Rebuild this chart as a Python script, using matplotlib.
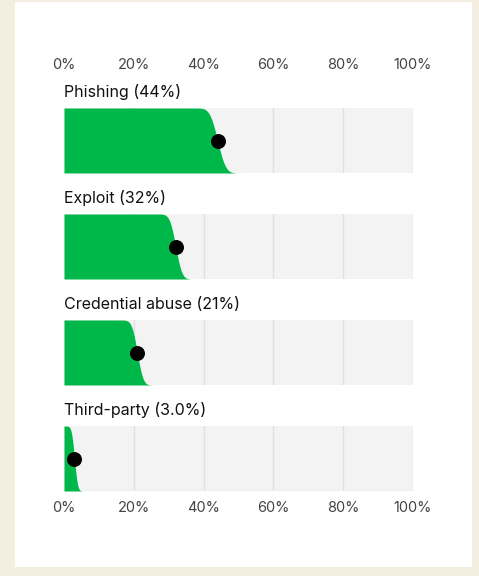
import matplotlib
matplotlib.use("Agg")
import matplotlib.pyplot as plt
import matplotlib.transforms as mtransforms
import numpy as np
from matplotlib.patches import Rectangle
from math import erf, sqrt

plt.rcParams['font.family'] = ['Inter', 'DejaVu Sans']

# ---- data ----
categories = ["Phishing", "Exploit", "Credential abuse", "Third-party"]
value_labels = ["44%", "32%", "21%", "3.0%"]
values = [44, 32, 21, 3.0]          # point estimate (%)
spreads = [1.8, 1.4, 1.3, 0.7]      # uncertainty (sd, percentage points)
tick_values = [0, 20, 40, 60, 80, 100]
tick_labels = ["0%", "20%", "40%", "60%", "80%", "100%"]

# ---- style ----
W, H = 479, 576
DPI = 100
CREAM = "#F4EEE1"
BAND = "#F3F3F3"
GRID = "#E0E0E0"
GREEN = "#00B84A"
TEXT = "#111111"
TICK = "#444444"

fig = plt.figure(figsize=(W / DPI, H / DPI), dpi=DPI)
fig.patch.set_facecolor(CREAM)

def fx(px):
    return px / W

def fy(py):
    return 1 - py / H

# white panel
fig.add_artist(Rectangle((fx(15), fy(567)), fx(472) - fx(15), fy(2) - fy(567),
                         transform=fig.transFigure, facecolor="white",
                         edgecolor="none", zorder=0))

x_left, x_right = 64, 413
band_tops = [108, 214, 320, 426]
band_h = 65

# background axes for tick labels (top & bottom)
bg = fig.add_axes([fx(x_left), fy(band_tops[-1] + band_h),
                   fx(x_right) - fx(x_left),
                   fy(band_tops[0]) - fy(band_tops[-1] + band_h)])
bg.set_xlim(0, 100)
bg.set_ylim(0, 1)
bg.patch.set_visible(False)
for s in bg.spines.values():
    s.set_visible(False)
bg.set_yticks([])
bg.set_xticks(tick_values)
bg.set_xticklabels(tick_labels)
bg.tick_params(axis="x", which="both", length=0, top=True, labeltop=True,
               bottom=True, labelbottom=True, labelsize=10.5, labelcolor=TICK,
               pad=7)
offset_top = mtransforms.ScaledTranslation(0, 19 / 72, fig.dpi_scale_trans)
for t in bg.xaxis.get_major_ticks():
    t.label2.set_transform(t.label2.get_transform() + offset_top)

xs = np.linspace(0, 100, 2001)

for i, (cat, vl, v, sd) in enumerate(zip(categories, value_labels, values, spreads)):
    top = band_tops[i]
    ax = fig.add_axes([fx(x_left), fy(top + band_h), fx(x_right) - fx(x_left),
                       fy(top) - fy(top + band_h)])
    ax.set_xlim(0, 100)
    ax.set_ylim(0, 1)
    ax.set_facecolor(BAND)
    for s in ax.spines.values():
        s.set_visible(False)
    ax.set_xticks([])
    ax.set_yticks([])
    for g in tick_values[1:]:
        ax.axvline(g, color=GRID, lw=1, zorder=1)
    surv = np.array([0.5 * (1 - erf((x - v) / (sd * sqrt(2)))) for x in xs])
    ax.fill_between(xs, 0, surv, color=GREEN, lw=0, zorder=2)
    ax.scatter([v], [0.5], s=95, color="black", zorder=3, clip_on=False)
    ax.text(0, 1.0, f"{cat} ({vl})",
            transform=ax.transAxes + mtransforms.ScaledTranslation(0, 6 / 72, fig.dpi_scale_trans),
            ha="left", va="bottom", fontsize=11.5, color=TEXT)
    if i == len(categories) - 1:
        ax.axhline(0, color="#D3ECE3", lw=1, zorder=1)

fig.savefig("out.png", dpi=DPI, facecolor=fig.get_facecolor())
